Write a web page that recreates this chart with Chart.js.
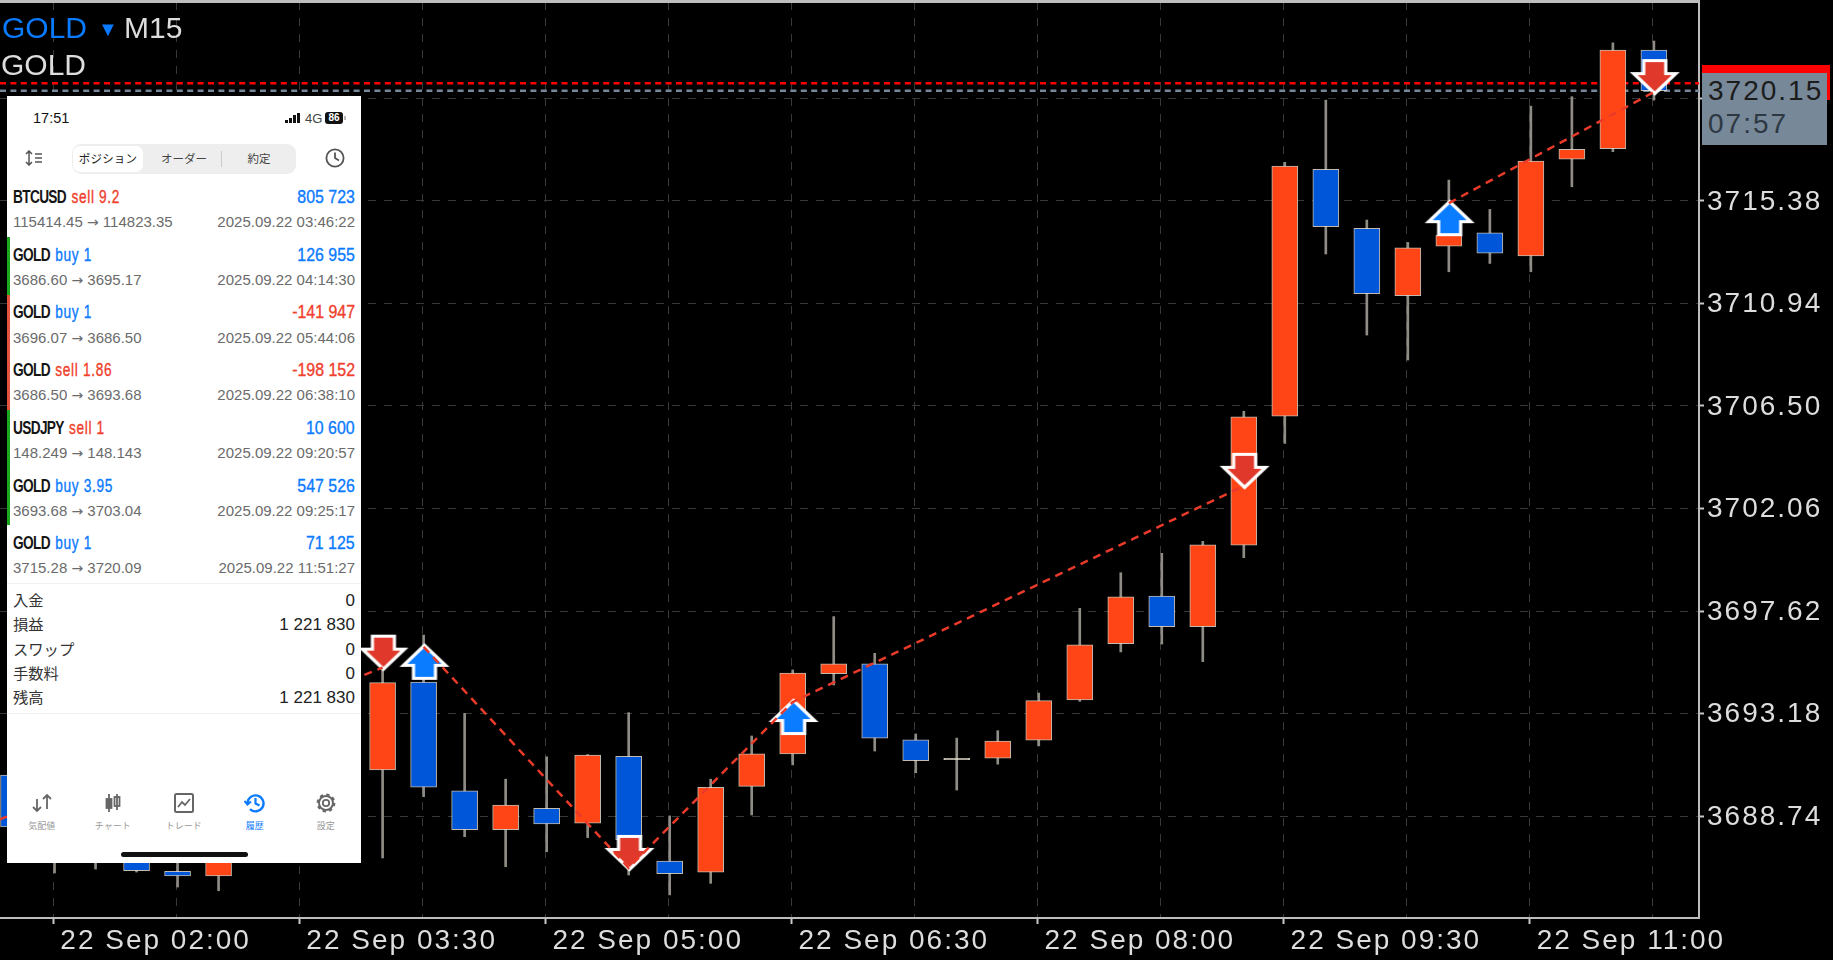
<!DOCTYPE html>
<html>
<head>
<meta charset="utf-8">
<title>GOLD M15</title>
<script src="https://cdn.jsdelivr.net/npm/chart.js@4/dist/chart.umd.min.js"></script>
<style>
html, body { margin: 0; padding: 0; background: #000; width: 1833px; height: 960px; overflow: hidden; }
body { position: relative; font-family: "Liberation Sans", sans-serif; }
#chart { position: absolute; left: 0; top: 0; }
.t { position: absolute; white-space: nowrap; line-height: 1; }
.mid { transform: translateY(-50%); }
#panel { position: absolute; left: 7px; top: 96px; width: 354px; height: 767px; background: #fff; }
#panel .t { color: #222; }
.jp { font-family: "Noto Sans CJK JP", sans-serif; }
.title { font-weight: bold; font-size: 18.5px; letter-spacing: -.9px; transform: translateY(-50%) scaleX(.74); transform-origin: left center; }
.title span { margin-left: 3px; font-weight: normal; letter-spacing: .9px; -webkit-text-stroke: .35px currentColor; }
.title.right { transform: translateY(-50%) scaleX(.86); transform-origin: right center; letter-spacing: 0; font-weight: normal; -webkit-text-stroke: .35px currentColor; }
.sub { font-size: 15px; color: #6b6b6b !important; }
.sub i { font-style: normal; font-family: "DejaVu Sans"; font-size: 14px; }
svg { position: absolute; }
</style>
</head>
<body>
<canvas id="chart" width="1833" height="960"></canvas>

<div class="t mid" style="left:2px;top:28px;font-size:30px;color:#0a7aff">GOLD</div>
<div class="t mid" style="left:98px;top:29px;font-size:20px;color:#0a7aff">▼</div>
<div class="t mid" style="left:124px;top:28px;font-size:30px;color:#ddd">M15</div>
<div class="t mid" style="left:1px;top:65px;font-size:30px;color:#ddd">GOLD</div>

<div style="position:absolute;left:1702px;top:65px;width:128px;height:35px;background:#f00"></div>
<div style="position:absolute;left:1702px;top:73px;width:125px;height:72px;background:#778899"></div>
<div class="t mid" id="bidLabel" style="left:1708px;top:91px;font-size:28px;letter-spacing:2px;color:#1c1c1c"></div>
<div class="t mid" id="timerLabel" style="left:1708px;top:124px;font-size:28px;letter-spacing:2px;color:#2e3843"></div>

<div id="panel"></div>

<script>
'use strict';

// candles, one per 15 min from 01:30; null = hidden behind the phone screenshot
var candleOpen = [3690.52, null, null, 3687.06, 3686.35, 3686.15, null, null, null, 3690.74, 3694.54, 3689.84, 3688.15, 3689.08, 3688.44, 3691.33, 3686.79, 3686.31, 3690.03, 3691.43, 3694.91, 3695.33, 3692.04, 3691.18, 3691.25, 3692.03, 3693.77, 3696.21, 3698.27, 3696.94, 3700.47, 3706.06, 3716.74, 3714.19, 3711.27, 3713.42, 3714.00, 3713.00, 3717.18, 3717.64, 3721.91];
var candleClose = [3688.27, null, null, 3686.38, 3686.15, 3687.28, null, null, null, 3694.52, 3689.99, 3688.15, 3689.22, 3688.40, 3691.38, 3687.71, 3686.25, 3689.99, 3691.44, 3694.93, 3695.33, 3692.12, 3691.14, 3691.24, 3691.99, 3693.74, 3696.16, 3698.24, 3696.94, 3700.49, 3706.03, 3716.89, 3714.26, 3711.36, 3713.35, 3713.90, 3713.12, 3717.10, 3717.61, 3721.91, 3720.15];
var candleHigh = [3690.90, 3687.28, 3687.28, 3687.28, 3687.28, 3687.28, null, null, null, 3695.50, 3696.58, 3693.19, 3690.34, 3691.31, 3691.41, 3693.22, 3688.75, 3690.34, 3692.21, 3695.07, 3697.38, 3695.79, 3692.30, 3692.12, 3692.44, 3694.07, 3697.74, 3699.28, 3700.12, 3700.64, 3706.27, 3717.05, 3719.74, 3714.55, 3713.58, 3716.28, 3715.01, 3719.48, 3719.89, 3722.22, 3722.30];
var candleLow = [3687.90, 3686.28, 3686.45, 3686.32, 3685.67, 3685.51, null, null, null, 3686.93, 3689.58, 3687.85, 3686.55, 3687.20, 3687.81, 3686.19, 3685.33, 3685.83, 3688.79, 3690.96, 3694.42, 3691.56, 3690.62, 3689.87, 3690.99, 3691.78, 3693.71, 3695.85, 3696.19, 3695.43, 3699.93, 3704.88, 3713.08, 3709.57, 3708.49, 3712.31, 3712.67, 3712.31, 3715.99, 3717.51, 3719.74];

var priceTicks = [3688.74, 3693.18, 3697.62, 3702.06, 3706.50, 3710.94, 3715.38, 3719.82];
var gridCandles = [1, 4, 7, 10, 13, 16, 19, 22, 25, 28, 31, 34, 37, 40];
var labelCandles = [1, 7, 13, 19, 25, 31, 37];
var timeLabels = ['22 Sep 02:00', '22 Sep 03:30', '22 Sep 05:00', '22 Sep 06:30', '22 Sep 08:00', '22 Sep 09:30', '22 Sep 11:00'];

var bidPrice = 3720.15;
var askPrice = 3720.47;
var barTimer = '07:57';

// closed trades: dashed links, null breaks the line
var tradeLineX = [-0.33, 9, null, 10, 15, 19, 30, null, 35, 40];
var tradeLineY = [3688.6, 3695.17, null, 3696.07, 3686.50, 3693.68, 3703.04, null, 3715.28, 3720.09];

var arrowCandle = [9, 10, 15, 19, 30, 35, 40];
var arrowPrice = [3695.17, 3696.07, 3686.50, 3693.68, 3703.04, 3715.28, 3720.09];
var arrowDir = ['down', 'up', 'down', 'up', 'down', 'up', 'down'];

// phone screenshot contents
var rowSymbol = ['BTCUSD', 'GOLD', 'GOLD', 'GOLD', 'USDJPY', 'GOLD', 'GOLD'];
var rowSide = ['sell 9.2', 'buy 1', 'buy 1', 'sell 1.86', 'sell 1', 'buy 3.95', 'buy 1'];
var rowProfit = ['805 723', '126 955', '-141 947', '-198 152', '10 600', '547 526', '71 125'];
var rowPrices = ['115414.45 → 114823.35', '3686.60 → 3695.17', '3696.07 → 3686.50', '3686.50 → 3693.68', '148.249 → 148.143', '3693.68 → 3703.04', '3715.28 → 3720.09'];
var rowTimes = ['2025.09.22 03:46:22', '2025.09.22 04:14:30', '2025.09.22 05:44:06', '2025.09.22 06:38:10', '2025.09.22 09:20:57', '2025.09.22 09:25:17', '2025.09.22 11:51:27'];
var summaryNames = ['入金', '損益', 'スワップ', '手数料', '残高'];
var summaryValues = ['0', '1 221 830', '0', '0', '1 221 830'];
var tabNames = ['気配値', 'チャート', 'トレード', '履歴', '設定'];
var segmentNames = ['ポジション', 'オーダー', '約定'];

var UP_COLOR = '#ff4516';
var DOWN_COLOR = '#0056d9';
var BUY_BLUE = '#0a7aff';
var SELL_RED = '#f0402c';

function candle_color(i) {
    if (candleOpen[i] === null) return 'transparent';
    if (Math.abs(candleClose[i] - candleOpen[i]) < 0.1) return '#f0ead8';
    return candleClose[i] > candleOpen[i] ? UP_COLOR : DOWN_COLOR;
}

// arrow image with its tip in the middle, so the point sits on the tip
function make_arrow(dir) {
    var c = document.createElement('canvas');
    c.width = 64;
    c.height = 100;
    var g = c.getContext('2d');
    g.translate(32, 50);
    if (dir === 'up') g.scale(1, -1);
    g.beginPath();
    g.moveTo(0, 1.5);
    g.lineTo(-21, -18.5);
    g.lineTo(-11, -18.5);
    g.lineTo(-11, -31.5);
    g.lineTo(11, -31.5);
    g.lineTo(11, -18.5);
    g.lineTo(21, -18.5);
    g.closePath();
    g.fillStyle = dir === 'up' ? '#0a7cff' : '#e0392b';
    g.fill();
    g.lineWidth = 3.2;
    g.lineJoin = 'miter';
    g.miterLimit = 10;
    g.strokeStyle = '#fff';
    g.stroke();
    return c;
}

var arrows = { up: make_arrow('up'), down: make_arrow('down') };

var frame_plugin = {
    id: 'frame',
    beforeDraw: function(chart) {
        chart.ctx.letterSpacing = '2px';
    },
    afterDraw: function(chart) {
        var ctx = chart.ctx, a = chart.chartArea;
        ctx.save();
        ctx.strokeStyle = '#bdbdbd';
        ctx.lineWidth = 3;
        ctx.beginPath();
        ctx.moveTo(a.left, 1.5);
        ctx.lineTo(a.right + 1, 1.5);
        ctx.stroke();
        ctx.restore();
    }
};

new Chart(document.getElementById('chart'), {
    type: 'bar',
    plugins: [frame_plugin],
    data: {
        datasets: [
            {
                // ask / bid lines sit behind the candles
                type: 'line', order: 7, pointRadius: 0, borderWidth: 2.5, borderColor: '#ff0000', borderDash: [6, 4.4],
                data: [{x: -0.33, y: askPrice}, {x: 41.1, y: askPrice}]
            },
            {
                type: 'line', order: 6, pointRadius: 0, borderWidth: 2.5, borderColor: '#778899', borderDash: [6, 4.4],
                data: [{x: -0.33, y: bidPrice}, {x: 41.1, y: bidPrice}]
            },
            {
                order: 5, grouped: false, barThickness: 2, backgroundColor: '#8e8c84', borderWidth: 0,
                data: candleHigh.map(function(h, i) { return {x: i, y: h === null ? null : [candleLow[i], h]}; })
            },
            {
                order: 4, grouped: false, barThickness: 26, borderWidth: 1, borderSkipped: false,
                borderColor: 'rgba(228,218,205,0.85)',
                backgroundColor: candleOpen.map(function(o, i) { return candle_color(i); }),
                data: candleOpen.map(function(o, i) { return {x: i, y: o === null ? null : [o, candleClose[i]]}; })
            },
            {
                type: 'line', order: 3, showLine: false, pointRadius: 1,
                pointStyle: arrowDir.map(function(d) { return arrows[d]; }),
                data: arrowCandle.map(function(c, i) { return {x: c + 0.02, y: arrowPrice[i]}; })
            },
            {
                type: 'line', order: 2, pointRadius: 0, borderWidth: 2.5, borderColor: '#ea3a2a', borderDash: [8, 6], spanGaps: false,
                data: tradeLineX.map(function(x, i) { return x === null ? {x: NaN, y: NaN} : {x: x, y: tradeLineY[i]}; })
            }
        ]
    },
    options: {
        responsive: false,
        animation: false,
        devicePixelRatio: 1,
        layout: { autoPadding: false, padding: { top: 2, left: 0, right: 0, bottom: 0 } },
        plugins: { legend: { display: false }, tooltip: { enabled: false } },
        scales: {
            x: {
                type: 'linear',
                offset: false,
                min: -0.33,
                max: 41.1,
                afterBuildTicks: function(scale) {
                    scale.ticks = gridCandles.map(function(c) { return {value: c - 0.03}; });
                },
                afterFit: function(scale) {
                    scale.height = 42;
                    scale.paddingLeft = 0;
                    scale.paddingRight = 0;
                },
                grid: {
                    offset: false,
                    color: '#383838',
                    lineWidth: 1,
                    tickLength: 6,
                    tickColor: function(ctx) {
                        return labelCandles.indexOf(gridCandles[ctx.index]) >= 0 ? '#c8c8c8' : 'transparent';
                    },
                    tickWidth: 2
                },
                border: { display: true, color: '#bdbdbd', width: 2, dash: [8, 8] },
                ticks: {
                    autoSkip: false,
                    maxRotation: 0,
                    align: 'start',
                    labelOffset: 7,
                    padding: 0,
                    color: '#ddd',
                    font: { family: '"Liberation Sans"', size: 28 },
                    callback: function(v, i) {
                        var k = labelCandles.indexOf(gridCandles[i]);
                        return k >= 0 ? timeLabels[k] : '';
                    }
                }
            },
            y: {
                position: 'right',
                min: 3684.33,
                max: 3723.99,
                afterBuildTicks: function(scale) {
                    scale.ticks = priceTicks.map(function(v) { return {value: v}; });
                },
                afterFit: function(scale) {
                    scale.width = 134;
                    scale.paddingTop = 0;
                    scale.paddingBottom = 0;
                },
                grid: { color: '#383838', lineWidth: 1, tickLength: 5, tickColor: '#c8c8c8', tickWidth: 2 },
                border: { display: true, color: '#bdbdbd', width: 2, dash: [8, 8] },
                ticks: {
                    padding: 3,
                    labelOffset: 1,
                    color: '#ddd',
                    font: { family: '"Liberation Sans"', size: 28 },
                    callback: function(v) { return v.toFixed(2); }
                }
            }
        }
    }
});

document.getElementById('bidLabel').textContent = bidPrice.toFixed(2);
document.getElementById('timerLabel').textContent = barTimer;

// ---- phone screenshot ----
var html = '';
var P_X = 7, P_Y = 96; // panel origin, coordinates below are page coordinates

function text(x, y, str, style, cls) {
    return '<div class="t mid ' + (cls || '') + '" style="left:' + (x - P_X) + 'px;top:' + (y - P_Y) + 'px;' + (style || '') + '">' + str + '</div>';
}
function rtext(x, y, str, style, cls) {
    return '<div class="t mid ' + (cls || '') + '" style="right:' + (361 - x) + 'px;top:' + (y - P_Y) + 'px;' + (style || '') + '">' + str + '</div>';
}
function ctext(x, y, str, style, cls) {
    return '<div class="t ' + (cls || '') + '" style="left:' + (x - P_X) + 'px;top:' + (y - P_Y) + 'px;transform:translate(-50%,-50%);' + (style || '') + '">' + str + '</div>';
}
function box(x, y, w, h, style) {
    return '<div style="position:absolute;left:' + (x - P_X) + 'px;top:' + (y - P_Y) + 'px;width:' + w + 'px;height:' + h + 'px;' + style + '"></div>';
}
function icon(x, y, w, h, inner, color) {
    return '<svg style="left:' + (x - P_X - w / 2) + 'px;top:' + (y - P_Y - h / 2) + 'px" width="' + w + '" height="' + h + '" viewBox="0 0 ' + w + ' ' + h + '" fill="none" stroke="' + color + '" stroke-width="1.8">' + inner + '</svg>';
}

// status bar
html += text(33, 118, '17:51', 'font-size:14.5px;color:#111');
[[285, 3], [289, 5], [293, 8], [297, 10]].forEach(function(b) {
    html += box(b[0], 123 - b[1], 2.6, b[1], 'background:#111');
});
html += text(305, 118, '4G', 'font-size:13px;color:#444');
html += box(325, 112, 18, 12, 'background:#111;border-radius:3px');
html += ctext(334, 118, '86', 'font-size:10px;font-weight:bold;color:#fff !important');
html += box(344, 116, 1.5, 4, 'background:#bbb');

// toolbar
html += icon(33, 158, 20, 16, '<path d="M6 1v14M3 4l3-3 3 3M3 12l3 3 3-3M12 4h7M12 8h7M12 12h7" stroke-width="1.5"/>', '#555');
html += box(72, 144, 224, 30, 'background:#eee;border-radius:9px');
html += box(73, 146, 70, 26, 'background:#fff;border-radius:7px');
html += box(221, 151, 1, 16, 'background:#ccc');
html += ctext(108, 159, segmentNames[0], 'font-size:11.5px;letter-spacing:.2px', 'jp');
html += ctext(184, 159, segmentNames[1], 'font-size:11.5px;color:#444', 'jp');
html += ctext(259, 159, segmentNames[2], 'font-size:11.5px;color:#444', 'jp');
html += icon(335, 158, 20, 20, '<circle cx="10" cy="10" r="8.6"/><path d="M10 4.5V10l4 2.5"/>', '#555');

// trade rows
var ROW_Y0 = 197, ROW_STEP = 57.7;
rowSymbol.forEach(function(sym, i) {
    var y = ROW_Y0 + ROW_STEP * i;
    var sideColor = rowSide[i].indexOf('buy') === 0 ? BUY_BLUE : SELL_RED;
    var profitColor = rowProfit[i].charAt(0) === '-' ? SELL_RED : BUY_BLUE;
    html += '<div class="t title" style="left:' + (13 - P_X) + 'px;top:' + (y - P_Y) + 'px;color:#151515">' + sym +
        ' <span style="color:' + sideColor + '">' + rowSide[i] + '</span></div>';
    html += '<div class="t title right" style="right:' + (361 - 355) + 'px;top:' + (y - P_Y) + 'px;color:' + profitColor + '">' + rowProfit[i] + '</div>';
    html += text(13, y + 24.2, rowPrices[i].replace('→', '<i>→</i>'), '', 'sub');
    html += rtext(355, y + 24.2, rowTimes[i], '', 'sub');
});
html += box(7, 237, 2.6, 58, 'background:#19a81e');
html += box(7, 295, 2.6, 115, 'background:#e4533f');
html += box(7, 410, 2.6, 115, 'background:#19a81e');

// summary
html += box(7, 583, 354, 1, 'background:#f0f0f0');
summaryNames.forEach(function(name, i) {
    var y = 600 + 24.3 * i;
    html += text(13, y, name, 'font-size:15.3px;color:#333', 'jp');
    html += rtext(355, y, summaryValues[i], 'font-size:17px;color:#222');
});
html += box(7, 713, 354, 1, 'background:#eee');

// bottom tabs
var TAB_X = [41.7, 112.7, 183.7, 254.7, 325.7];
tabNames.forEach(function(name, i) {
    html += ctext(TAB_X[i], 825, name, 'font-size:9px;color:' + (i === 3 ? BUY_BLUE : '#999'), 'jp');
});
html += icon(TAB_X[0], 803, 22, 20, '<path d="M6 18V6M2 14l4 4 4-4M16 16V2M12 6l4-4 4 4"/>', '#666');
html += icon(TAB_X[1], 803, 20, 20, '<path d="M6 1v18M14 1v16"/><rect x="3.5" y="6" width="5" height="9" fill="#666"/><rect x="11.5" y="4" width="5" height="9"/>', '#666');
html += icon(TAB_X[2], 803, 20, 20, '<rect x="1" y="1" width="18" height="18" rx="1.5" stroke-width="2"/><path d="M4 14l4-5 3 3 5-6"/>', '#666');
html += icon(TAB_X[3], 803, 22, 22, '<path d="M3.5 11a8 8 0 1 1 2.5 6.2" stroke-width="2.4"/><path d="M0.5 9l3 3.5 3.5-3" stroke-width="2"/><path d="M11.5 6v5.5l4 2" stroke-width="2.2"/>', BUY_BLUE);
html += icon(TAB_X[4], 803, 20, 20, '<circle cx="10" cy="10" r="3.2"/><circle cx="10" cy="10" r="7" stroke-width="2"/><circle cx="10" cy="10" r="8.4" stroke-width="2" stroke-dasharray="3.3 3.3"/>', '#666');
html += box(121, 852, 127, 4.6, 'background:#111;border-radius:3px');

document.getElementById('panel').innerHTML = html;
</script>
</body>
</html>
